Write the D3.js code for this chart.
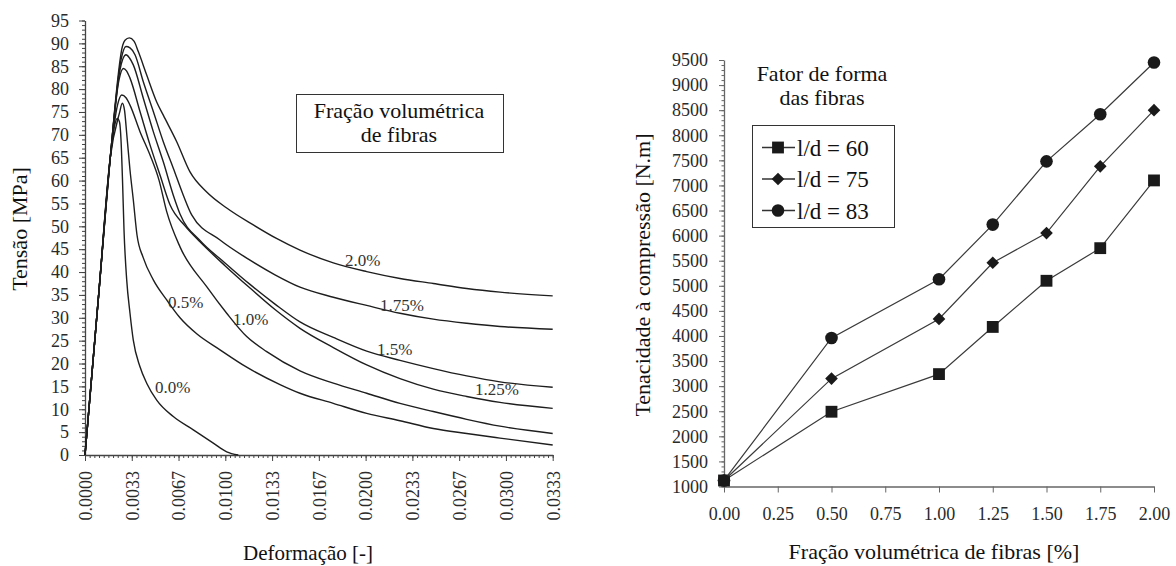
<!DOCTYPE html>
<html><head><meta charset="utf-8">
<script src="https://cdn.jsdelivr.net/npm/d3@7"></script>
<style>
body{margin:0;background:#fff}
text{font-family:"Liberation Serif","Times New Roman",serif}
</style>
</head><body>
<svg id="c" width="1176" height="566"></svg>
<script>
// ---------- LEFT CHART DATA: stress (MPa) vs strain (-) ----------
const curve00 = [[0,0],[0.0010,36],[0.0018,65],[0.002102,71.9],[0.002302,73.6],[0.002459,72.8],[0.002566,68.9],[0.002673,60.1],[0.002780,49.2],[0.002972,38.3],[0.003207,31.0],[0.003442,25.1],[0.003920,19.3],[0.004397,15.7],[0.005110,12.0],[0.006293,8.4],[0.007719,5.5],[0.009144,2.6],[0.010099,0.7],[0.010926,0]];
const curve05 = [[0,0],[0.0010,36],[0.0018,65],[0.002459,74.8],[0.002658,76.9],[0.002815,75.4],[0.002972,70.3],[0.003207,62.3],[0.003442,55.8],[0.003706,48.1],[0.004155,43.1],[0.004868,38.3],[0.005823,33.9],[0.006771,30.0],[0.007961,26.5],[0.009622,23.0],[0.011524,19.2],[0.013898,15.4],[0.015323,13.5],[0.017697,11.3],[0.020077,9.1],[0.022450,7.5],[0.024824,5.8],[0.027204,4.7],[0.029577,3.7],[0.033333,2.2]];
const curve10 = [[0,0],[0.0010,36],[0.0018,65],[0.002316,76.5],[0.002616,78.7],[0.002922,78.1],[0.003207,76.5],[0.003920,70.7],[0.004633,65.6],[0.005274,60.1],[0.005823,53.2],[0.006771,45.5],[0.008673,36.8],[0.010099,31.0],[0.011524,25.9],[0.012950,22.6],[0.015323,18.4],[0.017697,15.7],[0.020077,13.5],[0.022450,11.3],[0.024824,9.5],[0.027204,7.8],[0.029577,6.3],[0.033333,4.7]];
const curve125 = [[0,0],[0.0010,36],[0.0018,65],[0.002423,82.0],[0.002730,84.5],[0.002958,84.0],[0.003207,82.4],[0.003920,75.1],[0.004633,67.8],[0.005345,61.2],[0.006058,54.7],[0.007127,50.1],[0.008196,46.6],[0.009978,41.4],[0.011760,36.5],[0.013541,31.8],[0.015323,27.7],[0.017697,23.5],[0.020077,19.7],[0.022450,16.7],[0.024824,14.4],[0.027204,12.8],[0.029577,11.5],[0.033333,10.2]];
const curve15 = [[0,0],[0.0010,36],[0.0018,65],[0.002494,84.2],[0.002922,87.5],[0.003172,86.8],[0.003442,85.3],[0.004155,78.0],[0.004868,70.7],[0.005580,64.1],[0.006293,56.8],[0.006771,52.7],[0.008196,46.9],[0.009978,42.0],[0.011760,37.3],[0.013541,33.0],[0.015323,29.1],[0.017697,25.7],[0.020077,22.7],[0.022450,20.7],[0.024824,18.9],[0.027204,17.3],[0.029577,16.0],[0.033333,14.8]];
const curve175 = [[0,0],[0.0010,36],[0.0018,65],[0.002566,86.4],[0.002922,89.3],[0.003207,89.0],[0.003564,87.5],[0.004155,81.6],[0.004868,75.1],[0.005580,68.5],[0.006293,62.7],[0.007006,56.8],[0.007605,52.5],[0.009622,47.0],[0.011760,42.6],[0.013541,39.4],[0.015323,36.7],[0.017697,34.5],[0.020077,32.7],[0.022450,31.0],[0.024824,29.7],[0.027204,28.8],[0.029577,28.1],[0.033333,27.5]];
const curve20 = [[0,0],[0.0010,36],[0.0018,65],[0.002687,89.6],[0.002851,90.7],[0.003157,91.2],[0.003492,90.5],[0.003799,88.2],[0.004397,83.1],[0.005110,77.2],[0.005580,74.3],[0.006536,68.5],[0.007483,61.9],[0.008673,57.5],[0.010099,54.0],[0.011995,50.3],[0.013613,47.4],[0.015323,44.8],[0.017697,42.0],[0.020077,40.1],[0.022450,38.6],[0.024824,37.5],[0.027204,36.4],[0.029577,35.6],[0.033333,34.8]];
const curveLabels = ["0.0%","0.5%","1.0%","1.25%","1.5%","1.75%","2.0%"];
const labelStrain = [0.004989,0.005915,0.010548,0.027795,0.020811,0.021025,0.018530];
const labelStress = [13.6,32.1,28.4,13.1,21.9,31.5,41.3];
const strainTicks = [0,1,2,3,4,5,6,7,8,9,10].map(i=>i/300);
const stressTicks = d3.range(0,96,5);

// ---------- RIGHT CHART DATA ----------
const fiberFraction = [0,0.5,1.0,1.25,1.5,1.75,2.0];
const ld60 = [1120,2490,3240,4180,5100,5750,7100];
const ld75 = [1120,3150,4340,5460,6050,7380,8500];
const ld83 = [1120,3960,5130,6220,7480,8420,9450];
const seriesNames = ["l/d = 60","l/d = 75","l/d = 83"];
const fracTicks = [0,0.25,0.5,0.75,1.0,1.25,1.5,1.75,2.0];
const toughTicks = d3.range(1000,9501,500);

const svg = d3.select("#c");
const TXT = "#2a2a2a";

// ================= LEFT =================
const xL = d3.scaleLinear().domain([0,1/30]).range([85,552.7]);
const yL = d3.scaleLinear().domain([0,95]).range([455,20.5]);

function styleAxis(g, col){
  g.selectAll(".domain").attr("stroke",col).attr("stroke-width",1.3);
  g.selectAll(".tick line").attr("stroke",col).attr("stroke-width",1);
  g.selectAll("text").attr("fill",TXT).style("font-family","'Liberation Serif','Times New Roman',serif").style("font-size","18px");
}
// minor ticks
svg.append("g").attr("transform","translate(0,455)")
  .call(d3.axisBottom(xL).tickValues(d3.range(0,101).map(i=>i/3000)).tickSize(3).tickFormat(""))
  .call(g=>{g.select(".domain").remove(); g.selectAll("line").attr("stroke","#444");});
svg.append("g").attr("transform","translate(85,0)")
  .call(d3.axisLeft(yL).tickValues(d3.range(0,96,1)).tickSize(3).tickFormat(""))
  .call(g=>{g.select(".domain").remove(); g.selectAll("line").attr("stroke","#444");});
// major
const gxL = svg.append("g").attr("transform","translate(0,455)")
  .call(d3.axisBottom(xL).tickValues(strainTicks).tickSize(6).tickSizeOuter(0).tickFormat(d3.format(".4f")));
styleAxis(gxL,"#444");
gxL.selectAll("text").attr("transform","rotate(-90)").attr("text-anchor","end").attr("x",-16).attr("y",0).attr("dy","0.35em");
const gyL = svg.append("g").attr("transform","translate(85,0)")
  .call(d3.axisLeft(yL).tickValues(stressTicks).tickSize(6).tickSizeOuter(0).tickPadding(10));
styleAxis(gyL,"#444");

const lineL = d3.line().x(d=>xL(d[0])).y(d=>yL(d[1])).curve(d3.curveMonotoneX);
[curve00,curve05,curve10,curve125,curve15,curve175,curve20].forEach(c=>{
  svg.append("path").attr("d",lineL(c)).attr("fill","none").attr("stroke","#1e1e1e").attr("stroke-width",1.4);
});
curveLabels.forEach((t,i)=>{
  svg.append("text").attr("x",xL(labelStrain[i])).attr("y",yL(labelStress[i]))
    .attr("fill","#333").style("font-size","17px").text(t);
});
// legend box
svg.append("rect").attr("x",296.5).attr("y",94.5).attr("width",207).attr("height",58)
  .attr("fill","#fff").attr("stroke","#333").attr("stroke-width",1);
svg.append("text").attr("x",399).attr("y",117.5).attr("text-anchor","middle").attr("fill","#111").style("font-size","22px").text("Fração volumétrica");
svg.append("text").attr("x",399).attr("y",142).attr("text-anchor","middle").attr("fill","#111").style("font-size","22px").text("de fibras");
// titles
svg.append("text").attr("transform","translate(27,229) rotate(-90)").attr("text-anchor","middle").attr("fill","#111").style("font-size","22px").text("Tensão [MPa]");
svg.append("text").attr("x",308).attr("y",560).attr("text-anchor","middle").attr("fill","#111").style("font-size","21px").text("Deformação [-]");

// ================= RIGHT =================
const xR = d3.scaleLinear().domain([0,2]).range([724,1154]);
const yR = d3.scaleLinear().domain([1000,9500]).range([486.5,60]);
svg.append("g").attr("transform","translate(724,0)")
  .call(d3.axisLeft(yR).tickValues(d3.range(1000,9501,100)).tickSize(2.5).tickFormat(""))
  .call(g=>{g.select(".domain").remove(); g.selectAll("line").attr("stroke","#666");});
const gyR = svg.append("g").attr("transform","translate(724,0)")
  .call(d3.axisLeft(yR).tickValues(toughTicks).tickSize(5).tickSizeOuter(0).tickPadding(11).tickFormat(d3.format("d")));
styleAxis(gyR,"#666");
const gxR = svg.append("g").attr("transform","translate(0,486.5)")
  .call(d3.axisBottom(xR).tickValues(fracTicks).tickSize(6).tickSizeOuter(0).tickPadding(15).tickFormat(d3.format(".2f")));
styleAxis(gxR,"#666");

const lineR = d3.line().x((d,i)=>xR(fiberFraction[i])).y(d=>yR(d));
const sym = [d3.symbol().type(d3.symbolSquare).size(140), d3.symbol().type(d3.symbolSquare).size(80), d3.symbol().type(d3.symbolCircle).size(125)];
const rot = [0,45,0];
[ld60,ld75,ld83].forEach((s,k)=>{
  svg.append("path").attr("d",lineR(s)).attr("fill","none").attr("stroke","#3a3a3a").attr("stroke-width",1.2);
  s.forEach((v,i)=>{
    svg.append("path").attr("d",sym[k]()).attr("transform",`translate(${xR(fiberFraction[i])},${yR(v)}) rotate(${rot[k]})`).attr("fill","#1a1a1a");
  });
});
// legend
svg.append("text").attr("x",822).attr("y",81).attr("text-anchor","middle").attr("fill","#111").style("font-size","22px").text("Fator de forma");
svg.append("text").attr("x",822).attr("y",105).attr("text-anchor","middle").attr("fill","#111").style("font-size","22px").text("das fibras");
svg.append("rect").attr("x",752.5).attr("y",125.5).attr("width",142).attr("height",102).attr("fill","none").attr("stroke","#333").attr("stroke-width",1);
seriesNames.forEach((n,k)=>{
  const cy = 147.5 + k*31.5;
  svg.append("line").attr("x1",762).attr("x2",795).attr("y1",cy).attr("y2",cy).attr("stroke","#333").attr("stroke-width",1.3);
  svg.append("path").attr("d",sym[k]()).attr("transform",`translate(778,${cy}) rotate(${rot[k]})`).attr("fill","#1a1a1a");
  svg.append("text").attr("x",797).attr("y",cy+8).attr("fill","#111").style("font-size","23px").text(n);
});
svg.append("text").attr("transform","translate(650,275) rotate(-90)").attr("text-anchor","middle").attr("fill","#111").style("font-size","22px").text("Tenacidade à compressão [N.m]");
svg.append("text").attr("x",934).attr("y",559).attr("text-anchor","middle").attr("fill","#111").style("font-size","22px").text("Fração volumétrica de fibras [%]");
</script>
</body></html>
